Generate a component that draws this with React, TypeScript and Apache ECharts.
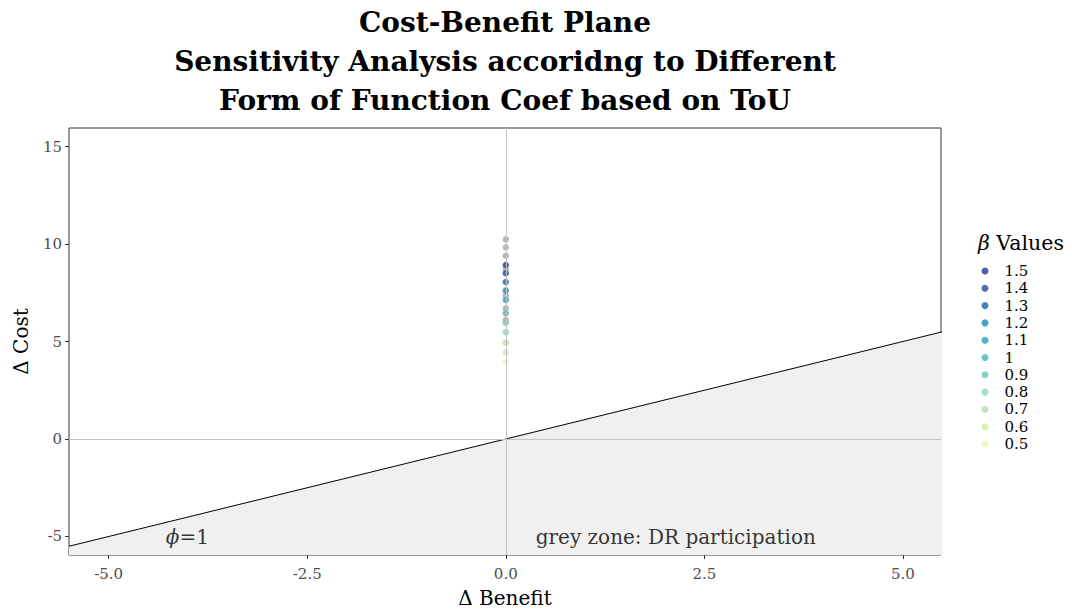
import React, { useEffect, useRef } from "react";
import * as echarts from "echarts";

const betaLabels = ["1.5", "1.4", "1.3", "1.2", "1.1", "1", "0.9", "0.8", "0.7", "0.6", "0.5"];
const betaCost = [8.92, 8.5, 8.05, 7.61, 7.13, 6.45, 5.96, 5.47, 4.94, 4.44, 3.95];
const betaBenefit = [0, 0, 0, 0, 0, 0, 0, 0, 0, 0, 0];
const betaColors = ["#4a55a8", "#4466b0", "#3d82bb", "#3a9cc6", "#40b0cc", "#5dc3cc", "#80d0c5", "#a0dcbf", "#bee6b7", "#d9efb3", "#eef7bf"];
const greyCost = [10.24, 9.83, 9.4, 8.7, 7.35, 6.7, 6.1];
const phiLine = [[-5.5, -5.5], [5.5, 5.5]];
const xTicks = [-5, -2.5, 0, 2.5, 5];
const yTicks = [-5, 0, 5, 10, 15];
const notes = [
  { x: -4.01, y: -5.05, text: "{i|ϕ}=1" },
  { x: 2.14, y: -5.05, text: "grey zone: DR participation" },
];

const FONT = "DejaVu Serif";

export default function App() {
  const ref = useRef<HTMLDivElement>(null);
  useEffect(() => {
    if (!ref.current) return;
    const chart = echarts.init(ref.current, undefined, { renderer: "svg" });
    const series: any[] = [
      {
        type: "line",
        data: phiLine,
        symbol: "none",
        lineStyle: { color: "#000", width: 1 },
        areaStyle: { color: "#f0f0f0", opacity: 1, origin: "start" },
        z: 1,
        silent: true,
        markLine: {
          silent: true,
          symbol: "none",
          label: { show: false },
          lineStyle: { color: "#c4c4c4", width: 1, type: "solid" },
          data: [{ xAxis: 0 }, { yAxis: 0 }],
        },
      },
      {
        type: "scatter",
        name: "other",
        data: greyCost.map((v) => [0, v]),
        symbolSize: 6.5,
        itemStyle: { color: "#b0b0b0", opacity: 0.9 },
        z: 3,
      },
      ...betaLabels.map((b, i) => ({
        type: "scatter",
        name: b,
        data: [[betaBenefit[i], betaCost[i]]],
        symbolSize: 6.5,
        itemStyle: { color: betaColors[i], opacity: 0.95 },
        z: 4,
      })),
      {
        type: "scatter",
        data: notes.map((n) => [n.x, n.y]),
        symbolSize: 0,
        silent: true,
        z: 5,
        label: {
          show: true,
          position: "inside",
          formatter: (p: any) => notes[p.dataIndex].text,
          color: "#000",
          fontFamily: FONT,
          fontSize: 20,
          rich: { i: { fontStyle: "italic", fontFamily: FONT, fontSize: 20, color: "#000" } },
        },
      },
    ];
    chart.setOption({
      animation: false,
      backgroundColor: "#fff",
      textStyle: { fontFamily: FONT },
      graphic: [
        {
          type: "text",
          x: 505,
          y: 3,
          style: {
            text: "Cost-Benefit Plane\nSensitivity Analysis accoridng to Different\nForm of Function Coef based on ToU",
            textAlign: "center",
            textVerticalAlign: "top",
            font: `bold 28px ${FONT}`,
            lineHeight: 39,
            fill: "#000",
          },
        },
        {
          type: "text",
          x: 978,
          y: 243,
          style: {
            text: "{i|β} Values",
            textVerticalAlign: "middle",
            font: `20.5px ${FONT}`,
            fill: "#000",
            rich: { i: { fontStyle: "italic", fontSize: 20.5, fontFamily: FONT } },
          },
        },
      ],
      legend: {
        data: betaLabels,
        orient: "vertical",
        left: 976.5,
        top: 258.5,
        icon: "circle",
        itemWidth: 7,
        itemHeight: 17,
        itemGap: 2.3,
        textStyle: { fontFamily: FONT, fontSize: 15, color: "#000", padding: [0, 0, 0, 11] },
        selectedMode: false,
      },
      grid: {
        left: 69,
        top: 128,
        width: 872,
        height: 427,
        show: true,
        borderColor: "#333",
        borderWidth: 1,
        backgroundColor: "transparent",
        containLabel: false,
        outerBoundsMode: "none",
      },
      xAxis: {
        type: "value",
        min: -5.5,
        max: 5.48,
        name: "Δ Benefit",
        nameLocation: "middle",
        nameGap: 33,
        nameTextStyle: { fontFamily: FONT, fontSize: 20, color: "#000" },
        axisLine: { show: false, onZero: false },
        splitLine: { show: false },
        axisTick: { show: true, customValues: xTicks, length: 4, lineStyle: { color: "#333" } },
        axisLabel: {
          customValues: xTicks,
          formatter: (v: number) => v.toFixed(1),
          color: "#4d4d4d",
          fontFamily: FONT,
          fontSize: 15,
          margin: 11,
        },
      },
      yAxis: {
        type: "value",
        min: -5.95,
        max: 15.95,
        name: "Δ Cost",
        nameLocation: "middle",
        nameGap: 38,
        nameTextStyle: { fontFamily: FONT, fontSize: 20, color: "#000" },
        axisLine: { show: false, onZero: false },
        splitLine: { show: false },
        axisTick: { show: true, customValues: yTicks, length: 4, lineStyle: { color: "#333" } },
        axisLabel: {
          customValues: yTicks,
          formatter: (v: number) => String(v),
          color: "#4d4d4d",
          fontFamily: FONT,
          fontSize: 15,
          margin: 7,
        },
      },
      series,
    });
    return () => chart.dispose();
  }, []);
  return <div ref={ref} style={{ width: 1072, height: 610, position: "absolute", left: 0, top: 0 }} />;
}
